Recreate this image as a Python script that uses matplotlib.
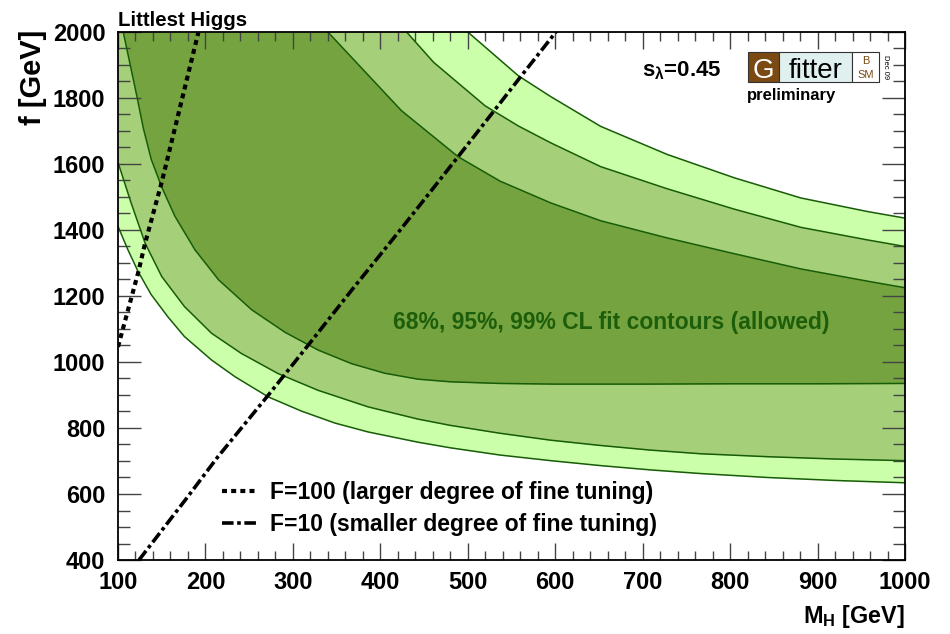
import numpy as np
import matplotlib
matplotlib.use("Agg")
from matplotlib import pyplot as plt
from matplotlib.patches import Rectangle
from matplotlib.ticker import MultipleLocator

plt.rcParams['font.family'] = ['Liberation Sans', 'DejaVu Sans']
plt.rcParams['font.weight'] = 'bold'
plt.rcParams['mathtext.fontset'] = 'custom'
plt.rcParams['mathtext.rm'] = 'Liberation Sans:bold'
plt.rcParams['mathtext.it'] = 'Liberation Sans:bold'
plt.rcParams['mathtext.bf'] = 'Liberation Sans:bold'

# contour boundaries: (M_H [GeV], f [GeV])
m99_lo = [100, 111, 123, 138, 157, 176, 207, 234, 272, 310, 348, 386, 443, 480, 537, 595, 652, 709, 766, 843, 920, 1000]
f99_lo = [1411, 1342, 1274, 1204, 1137, 1077, 1006, 955, 894, 851, 815, 788, 757, 740, 718, 701, 686, 673, 662, 650, 641, 634]
m95_lo = [100, 115, 131, 150, 176, 207, 241, 283, 329, 386, 443, 480, 537, 595, 652, 709, 766, 843, 920, 1000]
f95_lo = [1605, 1482, 1360, 1259, 1168, 1087, 1026, 965, 914, 864, 827, 808, 784, 763, 747, 733, 722, 713, 706, 701]
m68_lo = [106, 122, 129, 138, 150, 165, 188, 215, 253, 291, 329, 367, 405, 443, 480, 537, 600, 700, 800, 900, 1000]
f68_lo = [2000, 1800, 1708, 1614, 1530, 1442, 1340, 1249, 1158, 1090, 1036, 995, 966, 948, 940, 935, 933, 933, 934, 934, 935]

m68_up = [340, 424, 489, 537, 595, 652, 728, 805, 881, 957, 1000]
f68_up = [2000, 1762, 1622, 1548, 1482, 1428, 1376, 1328, 1282, 1245, 1225]
m95_up = [430, 461, 520, 558, 595, 652, 728, 805, 881, 957, 1000]
f95_up = [2000, 1908, 1776, 1715, 1664, 1592, 1525, 1463, 1408, 1370, 1350]
m99_up = [500, 558, 595, 652, 728, 805, 881, 957, 1000]
f99_up = [2000, 1867, 1804, 1714, 1629, 1558, 1497, 1456, 1436]

# fine tuning lines
m_F100 = [100, 123, 131, 150, 192]
f_F100 = [1046, 1270, 1360, 1545, 2000]
m_F10 = [124, 179, 214, 272, 319, 367, 423, 488, 530, 560, 602]
f_F10 = [400, 589, 712, 900, 1056, 1217, 1401, 1619, 1761, 1863, 2004]

xmin, xmax = 100, 1000
ymin, ymax = 400, 2000

c_dark = '#75a340'
c_mid = '#a6cf79'
c_light = '#ccffaa'
c_edge = '#175c07'

W, H = 950, 634
fig = plt.figure(figsize=(W / 100, H / 100), dpi=100)
ax = fig.add_axes([118 / W, 1 - 560 / H, (905 - 118) / W, (560 - 32) / H])

# nested bands: fill above lower edges, then above upper edges
ax.fill_between(m99_lo, f99_lo, ymax, color=c_light, lw=0)
ax.fill_between(m95_lo, f95_lo, ymax, color=c_mid, lw=0)
ax.fill_between(m68_lo, f68_lo, ymax, color=c_dark, lw=0)
ax.fill_between(m68_up, f68_up, ymax, color=c_mid, lw=0)
ax.fill_between(m95_up, f95_up, ymax, color=c_light, lw=0)
ax.fill_between(m99_up, f99_up, ymax, color='white', lw=0)

for m, f in [(m99_lo, f99_lo), (m95_lo, f95_lo), (m68_lo, f68_lo),
             (m68_up, f68_up), (m95_up, f95_up), (m99_up, f99_up)]:
    ax.plot(m, f, color=c_edge, lw=1.1, solid_joinstyle='round')

ax.plot(m_F100, f_F100, color='black', lw=3.0, ls=(0, (1.2, 1.0)),
        label='F=100 (larger degree of fine tuning)')
ax.plot(m_F10, f_F10, color='black', lw=2.6, ls=(0, (3.2, 1.0, 1.0, 1.0)),
        label='F=10 (smaller degree of fine tuning)')

ax.set_xlim(xmin, xmax)
ax.set_ylim(ymin, ymax)
ax.xaxis.set_major_locator(MultipleLocator(100))
ax.xaxis.set_minor_locator(MultipleLocator(20))
ax.yaxis.set_major_locator(MultipleLocator(200))
ax.yaxis.set_minor_locator(MultipleLocator(50))
ax.tick_params(which='both', direction='in', top=True, right=True, width=1.0,
               color='#444444', labelsize=17, pad=9)
ax.tick_params(axis='x', pad=8)
ax.tick_params(axis='y', which='major', length=16.5)
ax.tick_params(axis='y', which='minor', length=8.5)
ax.tick_params(axis='x', which='major', length=12.5)
ax.tick_params(axis='x', which='minor', length=6.5)
for s in ax.spines.values():
    s.set_linewidth(1.3)
    s.set_zorder(5)

leg = ax.legend(loc='upper left', bbox_to_anchor=(0.132, 0.149), frameon=False,
                fontsize=16.5, handlelength=1.57, handletextpad=0.52,
                labelspacing=0.38, borderpad=0, borderaxespad=0)

ax.text(415, 1100, '68%, 95%, 99% CL fit contours (allowed)', color='#1d5e0a',
        fontsize=16.5, ha='left', va='baseline')

fig.text(118 / W, 1 - 26 / H, 'Littlest Higgs', fontsize=14.7, ha='left', va='baseline')
fig.text(33 / W, 1 - 30 / H, 'f [GeV]', fontsize=21, rotation=90, ha='center', va='top')
fig.text(905 / W, 1 - 623 / H, r'M$_\mathrm{H}$ [GeV]', fontsize=16.8, ha='right', va='baseline')
fig.text(642 / W, 1 - 76 / H, r'$\mathrm{s}_{\lambda}$=0.45', fontsize=16, ha='left', va='baseline')

# Gfitter logo
def px_box(x0, y0, x1, y1, **kw):
    fig.patches.append(Rectangle((x0 / W, 1 - y1 / H), (x1 - x0) / W, (y1 - y0) / H,
                                 transform=fig.transFigure, figure=fig, **kw))

brown = '#7a4a12'
px_box(748, 52, 779, 82, facecolor=brown, edgecolor='#333333', lw=0.8)
px_box(779, 52, 852, 82, facecolor='#e0f0ee', edgecolor='#333333', lw=0.8)
px_box(852, 52, 879, 82, facecolor='white', edgecolor='#333333', lw=0.8)
fig.text(763.5 / W, 1 - 78 / H, 'G', color='white', fontsize=20, fontweight='normal',
         ha='center', va='baseline')
fig.text(815.5 / W, 1 - 78 / H, 'fitter', color='black', fontsize=20, fontweight='normal',
         ha='center', va='baseline')
fig.text(865.5 / W, 1 - 64 / H, 'B', color=brown, fontsize=8, fontweight='normal',
         ha='center', va='baseline')
fig.text(865.5 / W, 1 - 78 / H, 'SM', color=brown, fontsize=8, fontweight='normal',
         ha='center', va='baseline')
fig.text(886 / W, 1 - 67 / H, 'Dec 09', color='black', fontsize=5.5, fontweight='normal',
         rotation=-90, ha='center', va='center')
fig.text(747 / W, 1 - 100 / H, 'preliminary', fontsize=12, ha='left', va='baseline')

fig.savefig('out.png', dpi=100)
